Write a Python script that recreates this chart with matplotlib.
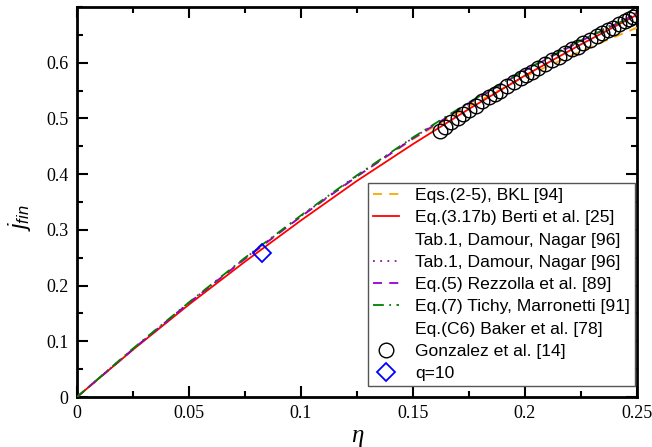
import matplotlib
matplotlib.use("Agg")
import matplotlib.pyplot as plt
from matplotlib.ticker import MultipleLocator

plt.rcParams['mathtext.fontset'] = 'custom'
plt.rcParams['mathtext.it'] = 'Liberation Sans:italic'
plt.rcParams['mathtext.rm'] = 'Liberation Sans'

# sampled eta values for the fit curves
eta_curve = [0.0, 0.025, 0.05, 0.075, 0.1, 0.125, 0.15, 0.175, 0.2, 0.225, 0.25]
j_bkl     = [0.0, 0.085, 0.168, 0.248, 0.324, 0.396, 0.463, 0.522, 0.575, 0.621, 0.663]
j_berti   = [0.0, 0.085, 0.166, 0.243, 0.317, 0.388, 0.454, 0.517, 0.577, 0.633, 0.686]
j_damour  = [0.0, 0.086, 0.169, 0.249, 0.325, 0.397, 0.465, 0.529, 0.588, 0.641, 0.690]
j_rezz    = [0.0, 0.086, 0.169, 0.248, 0.324, 0.396, 0.464, 0.527, 0.586, 0.639, 0.688]
j_tichy   = [0.0, 0.087, 0.170, 0.250, 0.326, 0.398, 0.466, 0.529, 0.587, 0.640, 0.687]
j_baker   = [0.0, 0.086, 0.169, 0.248, 0.324, 0.396, 0.464, 0.527, 0.586, 0.639, 0.688]

# Gonzalez et al. data points
eta_gonz = [0.162, 0.1645, 0.167, 0.170, 0.1725, 0.175, 0.178, 0.181, 0.184, 0.1865,
            0.189, 0.192, 0.195, 0.198, 0.2005, 0.203, 0.206, 0.209, 0.212, 0.215,
            0.218, 0.221, 0.2235, 0.226, 0.229, 0.232, 0.2345, 0.237, 0.2395, 0.242,
            0.2445, 0.2465, 0.248, 0.2495]
j_gonz   = [0.477, 0.485, 0.493, 0.501, 0.508, 0.515, 0.523, 0.531, 0.538, 0.544,
            0.550, 0.558, 0.565, 0.572, 0.578, 0.584, 0.591, 0.598, 0.604, 0.611,
            0.617, 0.624, 0.629, 0.635, 0.641, 0.648, 0.653, 0.658, 0.663, 0.669,
            0.674, 0.678, 0.682, 0.686]

# q=10 point
eta_q10 = [0.0826]
j_q10 = [0.259]

xticks = [0, 0.05, 0.1, 0.15, 0.2, 0.25]
xticklabels = ['0', '0.05', '0.1', '0.15', '0.2', '0.25']
yticks = [0, 0.1, 0.2, 0.3, 0.4, 0.5, 0.6]
yticklabels = ['0', '0.1', '0.2', '0.3', '0.4', '0.5', '0.6']

labels = ["Eqs.(2-5), BKL [94]", "Eq.(3.17b) Berti et al. [25]", "Tab.1, Damour, Nagar [96]",
          "Tab.1, Damour, Nagar [96]", "Eq.(5) Rezzolla et al. [89]",
          "Eq.(7) Tichy, Marronetti [91]", "Eq.(C6) Baker et al. [78]",
          "Gonzalez et al. [14]", "q=10"]

fig = plt.figure(figsize=(6.52, 4.47), dpi=100)
ax = fig.add_axes([77/652, 50/447, 560/652, 390/447])

h = []
h += ax.plot(eta_curve, j_bkl, color='#FFA500', ls=(0, (5, 4)), lw=1.3, label=labels[0], zorder=3)
h += ax.plot(eta_curve, j_berti, color='red', ls='-', lw=1.3, label=labels[1], zorder=3)
h += ax.plot(eta_curve, j_damour, color='white', ls='-', lw=1.0, label=labels[2], zorder=1)
h += ax.plot(eta_curve, j_damour, color='#8B1A8B', ls=(0, (1, 3)), lw=1.3, label=labels[3], zorder=3)
h += ax.plot(eta_curve, j_rezz, color='#9400D3', ls=(0, (5, 4)), lw=1.3, label=labels[4], zorder=3)
h += ax.plot(eta_curve, j_tichy, color='green', ls=(0, (6, 3, 1, 3)), lw=1.3, label=labels[5], zorder=3)
h += ax.plot(eta_curve, j_baker, color='white', ls='-', lw=1.0, label=labels[6], zorder=1)
h += ax.plot(eta_gonz, j_gonz, ls='none', marker='o', ms=10.5, mfc='none', mec='black', mew=1.0,
             label=labels[7], zorder=4)
h += ax.plot(eta_q10, j_q10, ls='none', marker='D', ms=9, mfc='none', mec='blue', mew=1.3,
             label=labels[8], zorder=5)

ax.set_xlim(0, 0.25)
ax.set_ylim(0, 0.7)
ax.set_xticks(xticks)
ax.set_xticklabels(xticklabels)
ax.set_yticks(yticks)
ax.set_yticklabels(yticklabels)
ax.xaxis.set_minor_locator(MultipleLocator(0.025))
ax.yaxis.set_minor_locator(MultipleLocator(0.05))
ax.tick_params(which='both', direction='in', top=True, right=True, width=1.5)
ax.tick_params(which='major', length=8, pad=6, labelsize=13, labelfontfamily='Liberation Serif')
ax.tick_params(which='minor', length=4)
for sp in ax.spines.values():
    sp.set_linewidth(2)

ax.set_xlabel('η', fontfamily='Liberation Serif', style='italic', fontsize=18, labelpad=2)
ax.set_ylabel(r'$j_{fin}$', fontsize=17)
ax.yaxis.set_label_coords(-0.078, 0.46)

leg = ax.legend(handles=h, loc='lower right', bbox_to_anchor=(1.012, 0.005),
                prop={'family': 'Liberation Sans', 'size': 12.6},
                handlelength=1.5, handletextpad=0.9, labelspacing=0.40,
                borderpad=0.3, fancybox=False, framealpha=1, edgecolor='#555555')
leg.get_frame().set_linewidth(1.0)
leg.set_zorder(10)

fig.savefig('out.png', dpi=100)
